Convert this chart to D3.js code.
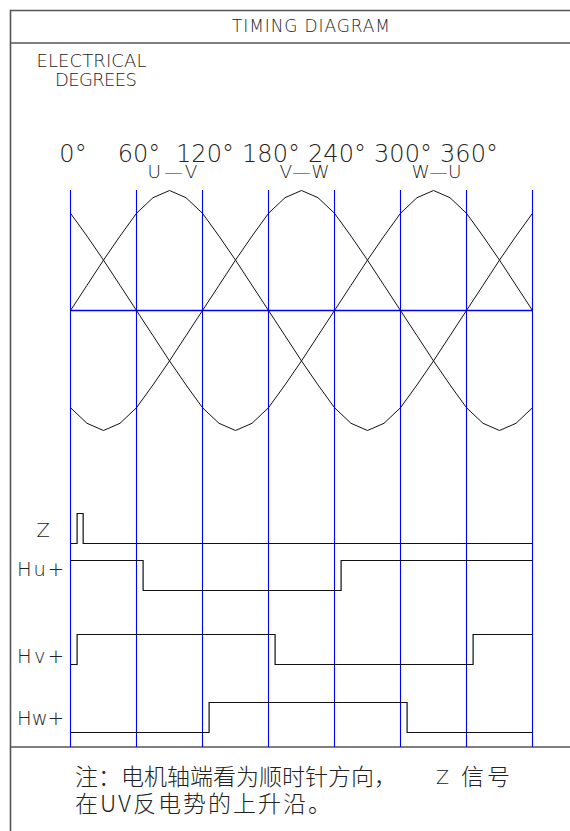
<!DOCTYPE html>
<html>
<head>
<meta charset="utf-8">
<script src="https://cdn.jsdelivr.net/npm/d3@7"></script>
<style>
  html, body { margin: 0; padding: 0; background: #fff; }
  svg { display: block; }
  .lat { font-family: "DejaVu Sans", "Liberation Sans", sans-serif; font-weight: 200; fill: #222; }
  .cjk { font-family: "Noto Sans CJK SC", sans-serif; font-weight: 300; fill: #222; }
</style>
</head>
<body>
<svg id="chart" width="570" height="831"></svg>
<script>
// ---------- data ----------
const title = "TIMING  DIAGRAM";
const axisTitle = ["ELECTRICAL", "DEGREES"];
const tickDeg = [0, 60, 120, 180, 240, 300, 360];
const tickLabels = ["0°", "60°", "120°", "180°", "240°", "300°", "360°"];
const gridDeg = [0, 60, 120, 180, 240, 300, 360, 420];

// back-EMF sample angles (electrical degrees)
const waveDeg = [0,15,30,45,60,75,90,105,120,135,150,165,180,195,210,225,240,255,270,285,300,315,330,345,360,375,390,405,420];
// normalized line-to-line back-EMF
const emfUV = [0,0.21,0.42,0.62,0.81,0.94,1,0.94,0.81,0.62,0.42,0.21,0,-0.21,-0.42,-0.62,-0.81,-0.94,-1,-0.94,-0.81,-0.62,-0.42,-0.21,0,0.21,0.42,0.62,0.81];
const emfVW = [-0.81,-0.94,-1,-0.94,-0.81,-0.62,-0.42,-0.21,0,0.21,0.42,0.62,0.81,0.94,1,0.94,0.81,0.62,0.42,0.21,0,-0.21,-0.42,-0.62,-0.81,-0.94,-1,-0.94,-0.81];
const emfWU = [0.81,0.62,0.42,0.21,0,-0.21,-0.42,-0.62,-0.81,-0.94,-1,-0.94,-0.81,-0.62,-0.42,-0.21,0,0.21,0.42,0.62,0.81,0.94,1,0.94,0.81,0.62,0.42,0.21,0];
const phaseNames = ["U—V", "V—W", "W—U"];
const phasePeakDeg = [90, 210, 330];

// digital signals: edge angles and levels after each edge
const signalNames = ["Z", "Hu+", "Hv+", "Hw+"];
const zDeg  = [0, 6, 11.5, 420];       const zLvl  = [0, 1, 0, 0];
const huDeg = [0, 66, 246, 420];       const huLvl = [1, 0, 1, 1];
const hvDeg = [0, 6, 186, 366, 420];   const hvLvl = [0, 1, 0, 1, 1];
const hwDeg = [0, 126, 306, 420];      const hwLvl = [0, 1, 0, 0];

const noteLine1 = "注：电机轴端看为顺时针方向，";
const noteLine1b = "Z";
const noteLine1c = "信号";
const noteLine2 = "在UV反电势的上升沿。";

// ---------- drawing ----------
const svg = d3.select("#chart");
svg.append("rect").attr("width", 570).attr("height", 831).attr("fill", "#fff");

const x = d3.scaleLinear().domain([0, 420]).range([70.5, 532.5]);
const yEmf = d3.scaleLinear().domain([-1, 1]).range([430.5, 190.5]);
const yLvl = d3.scaleLinear().domain([0, 1]).range([0, -30]);

// frame
const frame = svg.append("g").attr("fill", "none").attr("stroke", "#555");
frame.append("path").attr("d", "M10.5,831 V10.5 H570").attr("stroke-width", 1.6);
frame.append("line").attr("x1", 10).attr("x2", 570).attr("y1", 43).attr("y2", 43).attr("stroke-width", 1.3);
frame.append("line").attr("x1", 10).attr("x2", 570).attr("y1", 747).attr("y2", 747).attr("stroke-width", 1.3);

svg.append("text").attr("class", "lat").attr("x", 232).attr("y", 32.3)
  .attr("font-size", 17).attr("textLength", 158).attr("lengthAdjust", "spacing").text(title);

svg.append("text").attr("class", "lat").attr("x", 36.5).attr("y", 66.7)
  .attr("font-size", 18).attr("textLength", 110).attr("lengthAdjust", "spacing").text(axisTitle[0]);
svg.append("text").attr("class", "lat").attr("x", 55).attr("y", 86)
  .attr("font-size", 18).attr("textLength", 82).attr("lengthAdjust", "spacing").text(axisTitle[1]);

// degree axis (labels only)
const axis = d3.axisTop(x).tickValues(tickDeg).tickSize(0)
  .tickFormat((d, i) => tickLabels[i]);
const axG = svg.append("g").attr("transform", "translate(2,161.7)").call(axis);
axG.select(".domain").remove();
axG.selectAll("text").attr("class", "lat").attr("font-size", 24).attr("dy", 0).attr("y", 0)
  .attr("font-family", null);

// phase labels
svg.append("g").selectAll("text").data(phaseNames).join("text")
  .attr("class", "lat").attr("font-size", 18.5)
  .attr("x", (d, i) => x(phasePeakDeg[i]) + 3).attr("y", 177.7)
  .attr("text-anchor", "middle")
  .attr("textLength", 50).attr("lengthAdjust", "spacing")
  .text(d => d);

// blue grid
svg.append("g").selectAll("line").data(gridDeg).join("line")
  .attr("x1", d => x(d)).attr("x2", d => x(d))
  .attr("y1", 190).attr("y2", 747)
  .attr("stroke", "#0000ff").attr("stroke-width", 1.1);
svg.append("line").attr("x1", x(0)).attr("x2", x(420))
  .attr("y1", yEmf(0)).attr("y2", yEmf(0))
  .attr("stroke", "#0000ff").attr("stroke-width", 1.3);

// back-EMF waves
const emfLine = d3.line().x((d, i) => x(waveDeg[i])).y(d => yEmf(d));
svg.append("g").selectAll("path").data([emfUV, emfVW, emfWU]).join("path")
  .attr("d", emfLine).attr("fill", "none").attr("stroke", "#111").attr("stroke-width", 1);

// digital signals
const sigData = [
  { deg: zDeg, lvl: zLvl, base: 543.5, labelY: 536.7, labelX: 36.5, fs: 19.5, tl: null },
  { deg: huDeg, lvl: huLvl, base: 590.5, labelY: 576, labelX: 17, fs: 19.5, tl: 47 },
  { deg: hvDeg, lvl: hvLvl, base: 664.5, labelY: 662.7, labelX: 17, fs: 19.5, tl: 47 },
  { deg: hwDeg, lvl: hwLvl, base: 732.5, labelY: 725, labelX: 17, fs: 19.5, tl: 47 }
];
const stepLine = d3.line().curve(d3.curveStepAfter)
  .x(d => x(d[0])).y(d => yLvl(d[1]));
sigData.forEach((s, k) => {
  const g = svg.append("g").attr("transform", `translate(0,${s.base})`);
  g.append("path").datum(s.deg.map((d, i) => [d, s.lvl[i]]))
    .attr("d", stepLine).attr("fill", "none").attr("stroke", "#111").attr("stroke-width", 1.2);
  const t = svg.append("text").attr("class", "lat").attr("font-size", s.fs)
    .attr("x", s.labelX).attr("y", s.labelY).text(signalNames[k]);
  if (s.tl) t.attr("textLength", s.tl).attr("lengthAdjust", "spacing");
});

// note
svg.append("text").attr("class", "cjk").attr("font-size", 23).attr("x", 75).attr("y", 785)
  .attr("textLength", 322).attr("lengthAdjust", "spacing").text(noteLine1);
svg.append("text").attr("class", "lat").attr("font-size", 19).attr("x", 436).attr("y", 784).text(noteLine1b);
svg.append("text").attr("class", "cjk").attr("font-size", 23).attr("x", 461).attr("y", 785)
  .attr("textLength", 49).attr("lengthAdjust", "spacing").text(noteLine1c);
svg.append("text").attr("class", "cjk").attr("font-size", 23).attr("x", 75).attr("y", 812)
  .attr("textLength", 256).attr("lengthAdjust", "spacing").text(noteLine2);
</script>
</body>
</html>
